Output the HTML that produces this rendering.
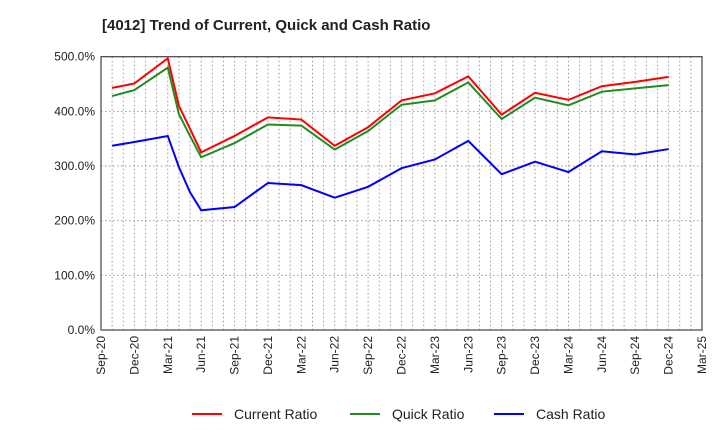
<!DOCTYPE html>
<html><head><meta charset="utf-8"><style>
body{margin:0;background:#fff;font-family:"Liberation Sans",sans-serif}
</style></head><body>
<svg id="c" width="720" height="440" xmlns="http://www.w3.org/2000/svg" font-family="Liberation Sans, sans-serif">
<text x="102" y="30" font-size="15" font-weight="bold" fill="#222">[4012]  Trend of Current, Quick and Cash Ratio</text>
<g id="grid"></g><g id="axes"></g><g id="series"></g>
<g font-size="14" fill="#222">
<line x1="192" y1="414" x2="222" y2="414" stroke="#f00" stroke-width="2"/>
<text x="234" y="419">Current Ratio</text>
<line x1="350" y1="414" x2="380" y2="414" stroke="#228b22" stroke-width="2"/>
<text x="392" y="419">Quick Ratio</text>
<line x1="494" y1="414" x2="524" y2="414" stroke="#00f" stroke-width="2"/>
<text x="536" y="419">Cash Ratio</text>
</g>
</svg>
<script>
const monthIdx=[1,3,6,7,8,9,12,15,18,21,24,27,30,33,36,39,42,45,48,51];
const currentRatio=[443,451,497,410,368,325,355,389,385,337,371,420,433,464,394,434,421,446,454,463];
const quickRatio=[428,439,480,395,355,316,342,376,374,330,364,412,420,453,386,425,411,436,442,448];
const cashRatio=[337,344,355,298,252,219,225,269,265,242,262,296,312,346,285,308,289,327,321,331];
const yTicks=[0,100,200,300,400,500];
const xLabels=["Sep-20","Dec-20","Mar-21","Jun-21","Sep-21","Dec-21","Mar-22","Jun-22","Sep-22","Dec-22","Mar-23","Jun-23","Sep-23","Dec-23","Mar-24","Jun-24","Sep-24","Dec-24","Mar-25"];
const L=101,R=702,T=56.7,B=330,NM=54;
const xs=m=>L+(R-L)*m/NM, ys=v=>B-(B-T)*v/500;
const NS="http://www.w3.org/2000/svg";
function mk(p,t,a){const e=document.createElementNS(NS,t);for(const k in a)e.setAttribute(k,a[k]);p.appendChild(e);return e;}
const g=document.getElementById('grid'),ax=document.getElementById('axes'),sg=document.getElementById('series');
for(let m=1;m<NM;m++){const l=mk(g,'line',{x1:xs(m),x2:xs(m),y1:T,y2:B,stroke:'#999','stroke-dasharray':'1.5,2.5','stroke-width':1});

}
yTicks.forEach(v=>{const l=mk(g,'line',{x1:L,x2:R,y1:ys(v),y2:ys(v),stroke:'#999','stroke-dasharray':'1.5,2.5','stroke-width':1});


const t=mk(ax,'text',{x:L-6,y:ys(v)+4,'text-anchor':'end','font-size':12,fill:'#222'});t.textContent=v.toFixed(1)+'%';

});
const fr=mk(ax,'rect',{x:L,y:T,width:R-L,height:B-T,fill:'none',stroke:'#444','stroke-width':1.2});


xLabels.forEach((s,i)=>{const x=xs(i*3);const t=mk(ax,'text',{transform:`translate(${x+4},${B+6}) rotate(-90)`,'text-anchor':'end','font-size':12,fill:'#222'});t.textContent=s;

});
[[currentRatio,'#f00','current-ratio-line'],[quickRatio,'#228b22','quick-ratio-line'],[cashRatio,'#00f','cash-ratio-line']].forEach(([d,c,n])=>{
const p=mk(sg,'polyline',{points:d.map((v,i)=>xs(monthIdx[i])+','+ys(v)).join(' '),fill:'none',stroke:c,'stroke-width':2});

});
</script>
</body></html>
